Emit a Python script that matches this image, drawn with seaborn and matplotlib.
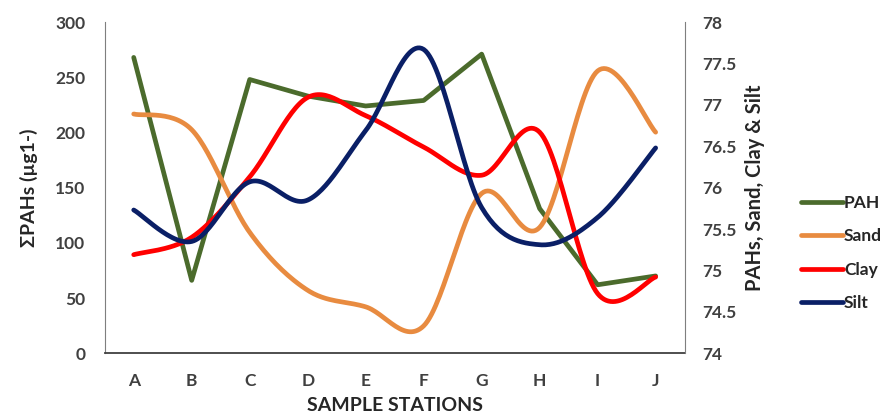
import numpy as np
import matplotlib
matplotlib.use("Agg")
import matplotlib.pyplot as plt
import pandas as pd
import seaborn as sns

# data
stations = ["A", "B", "C", "D", "E", "F", "G", "H", "I", "J"]
pah = [268, 66, 248, 233, 224, 229, 271, 131, 62, 70]           # left axis
sand = [76.89, 76.70, 75.46, 74.76, 74.56, 74.33, 75.93, 75.52, 77.41, 76.67]  # right axis
clay = [75.19, 75.40, 76.13, 77.09, 76.87, 76.49, 76.15, 76.67, 74.72, 74.92]
silt = [75.73, 75.35, 76.07, 75.85, 76.69, 77.67, 75.76, 75.31, 75.64, 76.48]

colors = {"PAH": "#4b6b2c", "Sand": "#e88b40", "Clay": "#ff0000", "Silt": "#0a1f66"}


def smooth(y, n=30):
    # excel style smoothed line (catmull-rom between the points)
    y = np.asarray(y, dtype=float)
    x = np.arange(len(y), dtype=float)
    p = np.column_stack([x, y])
    p = np.vstack([p[0], p, p[-1]])
    out = []
    for i in range(1, len(p) - 2):
        p0, p1, p2, p3 = p[i - 1], p[i], p[i + 1], p[i + 2]
        c1 = p1 + (p2 - p0) / 6
        c2 = p2 - (p3 - p1) / 6
        t = np.linspace(0, 1, n)[:, None]
        seg = (1 - t) ** 3 * p1 + 3 * (1 - t) ** 2 * t * c1 + 3 * (1 - t) * t ** 2 * c2 + t ** 3 * p2
        out.append(seg if i == 1 else seg[1:])
    out = np.vstack(out)
    return pd.DataFrame({"x": out[:, 0], "y": out[:, 1]})


sns.set_style("white")
plt.rcParams["font.family"] = ["Lato", "DejaVu Sans"]
plt.rcParams["font.weight"] = "bold"

fig = plt.figure(figsize=(8.8, 4.17), dpi=100)
ax = fig.add_axes([0.119, 0.153, 0.659, 0.794])
ax2 = ax.twinx()

lw = 3.4
pah_df = pd.DataFrame({"x": np.arange(len(stations)), "y": pah})
sns.lineplot(data=pah_df, x="x", y="y", color=colors["PAH"], lw=lw, ax=ax, label="PAH", legend=False)
for name, vals in [("Sand", sand), ("Clay", clay), ("Silt", silt)]:
    sns.lineplot(data=smooth(vals), x="x", y="y", sort=False, estimator=None, color=colors[name],
                 lw=lw, ax=ax2, label=name, legend=False, solid_capstyle="round")

ax.set_xlim(-0.5, len(stations) - 0.5)
ax.set_ylim(0, 300)
ax.set_yticks(range(0, 301, 50))
ax2.set_ylim(74, 78)
ax2.set_yticks(np.arange(74, 78.01, 0.5))
ax2.set_yticklabels([f"{v:g}" for v in np.arange(74, 78.01, 0.5)])
ax.set_xticks(range(len(stations)))
ax.set_xticklabels(stations)

for a in (ax, ax2):
    a.tick_params(length=0, labelsize=12.5, colors="#404040")
    for s in a.spines.values():
        s.set_visible(False)
ax.tick_params(axis="y", pad=14)
ax.tick_params(axis="x", pad=14)
ax2.tick_params(axis="y", pad=13)
ax.spines["left"].set_visible(True)
ax.spines["bottom"].set_visible(True)
ax2.spines["right"].set_visible(True)
ax.spines["left"].set_color("#7f7f7f")
ax.spines["bottom"].set_color("#404040")
ax.spines["bottom"].set_linewidth(1.3)
ax2.spines["right"].set_color("#7f7f7f")
for lab in ax.get_xticklabels() + ax.get_yticklabels() + ax2.get_yticklabels():
    lab.set_fontweight("bold")

ax.set_xlabel("SAMPLE STATIONS", fontsize=14, fontweight="bold", color="#262626", labelpad=6)
ax.set_ylabel("ΣPAHs (µg1-)", fontsize=14, fontweight="bold", color="#262626", labelpad=12)
ax2.set_ylabel("PAHs, Sand, Clay & Silt", fontsize=14.5, fontweight="bold", color="#262626", labelpad=6)

handles = ax.get_lines()[:1] + ax2.get_lines()
leg = fig.legend(handles, ["PAH", "Sand", "Clay", "Silt"], loc="upper left",
                 bbox_to_anchor=(0.893, 0.57), frameon=False, handlelength=2.4,
                 handletextpad=0.05, labelspacing=1.0, prop={"size": 12.5, "weight": "bold"})
for t in leg.get_texts():
    t.set_color("#262626")

fig.savefig("out.png", dpi=100)
